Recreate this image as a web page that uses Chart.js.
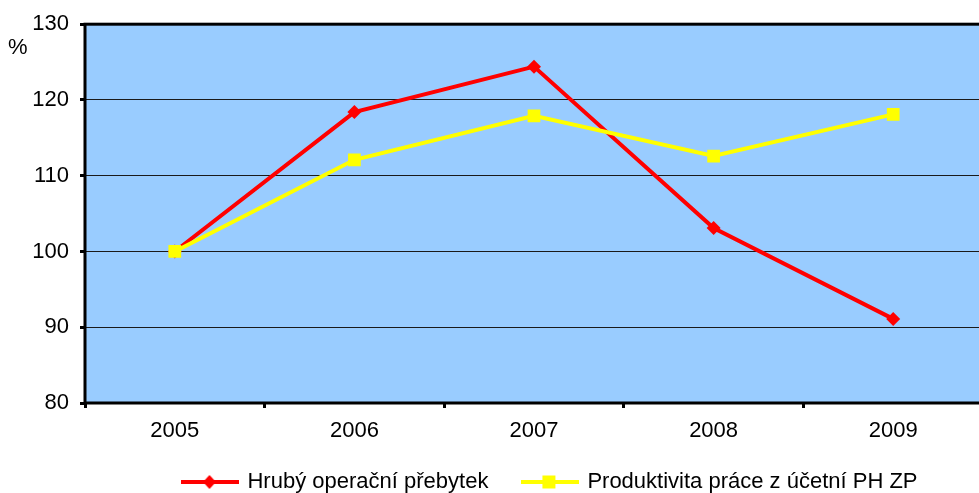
<!DOCTYPE html>
<html>
<head>
<meta charset="utf-8">
<script src="https://cdn.jsdelivr.net/npm/chart.js@4.4.0/dist/chart.umd.min.js"></script>
<style>
  html, body { margin: 0; padding: 0; background: #fff; overflow: hidden; }
  #wrap { width: 979px; height: 493px; overflow: hidden; position: relative; }
  #box { width: 992px; height: 493px; }
</style>
</head>
<body>
<div id="wrap"><div id="box"><canvas id="chart"></canvas></div></div>
<script>
const years = ['2005', '2006', '2007', '2008', '2009'];
const operatingSurplus = [100, 118.4, 124.4, 103.1, 91.1];
const laborProductivity = [100, 112.1, 117.9, 112.6, 118.1];
const yTicks = [80, 90, 100, 110, 120, 130];

const FONT = "'Liberation Sans', Arial, sans-serif";
const SIZE = 22;
const LEGEND_GAP = 36;

// small legend icons: line with the marker in the middle
function legendIcon(color, style) {
    const c = document.createElement('canvas');
    c.width = 58; c.height = 16;
    const g = c.getContext('2d');
    g.strokeStyle = color;
    g.fillStyle = color;
    g.lineWidth = 4;
    g.beginPath(); g.moveTo(0, 8); g.lineTo(58, 8); g.stroke();
    g.beginPath();
    if (style === 'diamond') {
        g.moveTo(28, 1); g.lineTo(34.5, 8); g.lineTo(28, 15); g.lineTo(21.5, 8);
    } else {
        g.rect(21, 1.5, 13, 13);
    }
    g.closePath(); g.fill();
    return c;
}

const plotBackground = {
    id: 'plotBackground',
    beforeDraw(chart) {
        const { ctx, chartArea: a } = chart;
        ctx.save();
        ctx.fillStyle = '#99CCFF';
        ctx.fillRect(a.left, a.top, a.right - a.left, a.bottom - a.top);
        ctx.restore();
    },
    afterDatasetsDraw(chart) {
        const { ctx, chartArea: a } = chart;
        ctx.save();
        ctx.strokeStyle = '#000';
        ctx.lineWidth = 3;
        ctx.strokeRect(a.left, a.top, a.right - a.left, a.bottom - a.top);
        ctx.fillStyle = '#000';
        ctx.font = SIZE + 'px ' + FONT;
        ctx.textAlign = 'left';
        ctx.textBaseline = 'middle';
        ctx.fillText('%', 8, 48);
        ctx.restore();
    }
};

// legend: keep its box short for the layout, then put it where the original has it
const legendPlace = {
    id: 'legendPlace',
    afterInit(chart) {
        const l = chart.legend;
        const fit = l.fit.bind(l);
        l.fit = function () { fit(); this.height = 40; };
    },
    afterLayout(chart) {
        const l = chart.legend;
        l.left += 56; l.right += 56;
        l.top = 482 - LEGEND_GAP - SIZE / 2;
        l.height = 80;
        l.bottom = l.top + l.height;
    }
};

new Chart(document.getElementById('chart'), {
    type: 'line',
    data: {
        labels: years,
        datasets: [{
            label: 'Hrubý operační přebytek',
            data: operatingSurplus,
            borderColor: '#FF0000',
            backgroundColor: '#FF0000',
            borderWidth: 4,
            pointStyle: 'rectRot',
            pointRadius: 7,
            pointBorderWidth: 0,
            tension: 0,
            order: 2
        }, {
            label: 'Produktivita práce z účetní PH ZP',
            data: laborProductivity,
            borderColor: '#FFFF00',
            backgroundColor: '#FFFF00',
            borderWidth: 4,
            pointStyle: 'rect',
            pointRadius: 9,
            pointBorderWidth: 0,
            tension: 0,
            order: 1
        }]
    },
    options: {
        responsive: true,
        maintainAspectRatio: false,
        animation: false,
        layout: { padding: { top: 9, left: 0, right: 2, bottom: 0 } },
        plugins: {
            tooltip: { enabled: false },
            legend: {
                position: 'bottom',
                labels: {
                    color: '#000',
                    font: { family: FONT, size: SIZE },
                    usePointStyle: true,
                    pointStyleWidth: 52,
                    padding: LEGEND_GAP,
                    generateLabels(chart) {
                        return chart.data.datasets.map((ds, i) => ({
                            text: ds.label,
                            pointStyle: legendIcon(ds.borderColor, i === 0 ? 'diamond' : 'square'),
                            fillStyle: ds.borderColor,
                            strokeStyle: ds.borderColor,
                            lineWidth: 0,
                            datasetIndex: i
                        }));
                    }
                }
            }
        },
        scales: {
            x: {
                offset: true,
                afterFit(scale) {
                    scale.height = 50;
                },
                grid: {
                    offset: true,
                    drawOnChartArea: false,
                    drawTicks: true,
                    tickLength: 5,
                    tickWidth: 3,
                    tickColor: '#000'
                },
                border: { display: false },
                ticks: { color: '#000', font: { family: FONT, size: SIZE }, padding: 10 }
            },
            y: {
                min: 80,
                max: 130,
                afterBuildTicks(scale) {
                    scale.ticks = yTicks.map(v => ({ value: v }));
                },
                afterFit(scale) {
                    scale.width = 85;
                },
                grid: {
                    color: '#1a1a1a',
                    lineWidth: 1,
                    tickLength: 5,
                    tickWidth: 3,
                    tickColor: '#000'
                },
                border: { display: false },
                ticks: { color: '#000', font: { family: FONT, size: SIZE }, padding: 11 }
            }
        }
    },
    plugins: [plotBackground, legendPlace]
});
</script>
</body>
</html>
